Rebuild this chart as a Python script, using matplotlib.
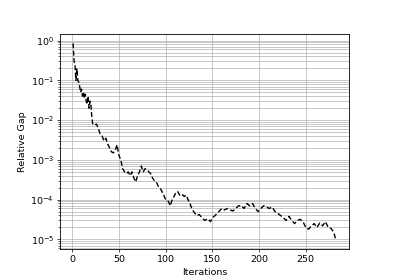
import matplotlib
matplotlib.use("Agg")
import matplotlib.pyplot as plt

# relative gap per iteration
iters = [1, 2, 3, 4, 5, 6, 7, 8, 9, 10, 11, 12, 13, 14, 15, 16, 17, 18, 19, 20,
         21, 22, 24, 26, 28, 30, 32, 34, 36, 38, 40, 42, 44, 46, 48, 50,
         52, 54, 56, 58, 60, 62, 64, 66, 68, 70, 72, 74, 76, 78, 80, 82, 84,
         86, 88, 90, 92, 95, 98, 100, 103, 105, 107, 109, 111, 113, 115, 117,
         120, 122, 124, 126, 128, 130, 133, 136, 139, 142, 145, 148, 150, 153,
         155, 157, 160, 163, 166, 169, 172, 175, 178, 181, 184, 187, 190, 193,
         196, 199, 202, 205, 208, 211, 214, 217, 220, 223, 226, 229, 232, 235,
         238, 241, 244, 247, 250, 253, 256, 259, 262, 265, 268, 271, 274, 277,
         280, 282]
gap = [0.85, 0.3, 0.25, 0.1, 0.2, 0.1, 0.09, 0.07, 0.05, 0.06, 0.04, 0.05,
       0.035, 0.045, 0.03, 0.025, 0.04, 0.02, 0.03, 0.025, 0.012, 0.008, 0.0075,
       0.008, 0.006, 0.0045, 0.004, 0.003, 0.0035, 0.0025, 0.002, 0.0016,
       0.0015, 0.0017, 0.0024, 0.0013, 0.001, 0.0006, 0.0005, 0.00045, 0.0005,
       0.0004, 0.0005, 0.00035, 0.00028, 0.0004, 0.0005, 0.0007, 0.0005,
       0.0006, 0.00058, 0.0005, 0.00045, 0.00035, 0.0003, 0.00028, 0.00022,
       0.00018, 0.00013, 0.0001, 0.00009, 0.00007, 0.0001, 0.00012, 0.00015,
       0.00016, 0.00013, 0.00014, 0.00012, 0.00013, 0.0001, 0.00008, 0.00006,
       0.00005, 0.00004, 0.000042, 0.000035, 0.00003, 0.000033, 0.000028,
       0.000035, 0.00004, 0.000045, 0.00005, 0.00006, 0.000055, 0.00006,
       0.000055, 0.000052, 0.00006, 0.00007, 0.00007, 0.00006, 0.00008,
       0.00007, 0.00008, 0.00006, 0.00005, 0.00006, 0.00007, 0.000065, 0.00006,
       0.000065, 0.00005, 0.000045, 0.00004, 0.000035, 0.00003, 0.000038,
       0.00003, 0.000025, 0.00003, 0.000032, 0.000028, 0.00002, 0.000018,
       0.000022, 0.000025, 0.00002, 0.000026, 0.000022, 0.000028, 0.00002,
       0.000019, 0.000015, 0.00001]

# the reference looks like a default 640x480 figure shrunk down,
# so scale fonts, ticks and line widths by ~0.6
plt.rcParams.update({
    "font.size": 6.8,
    "axes.linewidth": 0.6,
    "grid.linewidth": 0.5,
    "xtick.major.size": 2.2, "ytick.major.size": 2.2,
    "ytick.minor.size": 1.2,
    "xtick.major.width": 0.5, "ytick.major.width": 0.5,
    "ytick.minor.width": 0.4,
    "xtick.major.pad": 2.2, "ytick.major.pad": 2.2,
    "axes.labelpad": 2.5,
})

fig, ax = plt.subplots(figsize=(4, 2.8), dpi=100)
fig.subplots_adjust(left=0.15, right=0.872, top=0.88, bottom=0.11)

ax.semilogy(iters, gap, "k--", linewidth=1.0, dashes=(3.5, 1.8))
ax.set_xlabel("Iterations")
ax.set_ylabel("Relative Gap")
ax.grid(True, which="both")
ax.set_xticks([0, 50, 100, 150, 200, 250])

fig.savefig("out.png", dpi=100)
